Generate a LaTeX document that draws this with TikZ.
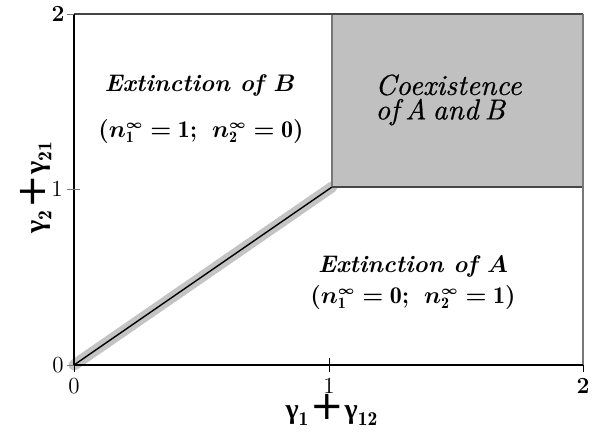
\documentclass[tikz,border=0pt]{standalone}
\usepackage{fontspec}
\usepackage{amsmath,bm}
\newfontfamily\grk{Liberation Serif}
\newfontfamily\dvs{DejaVu Sans}
\newfontface\coexfont{lmroman10-italic.otf}[FakeBold=0.6]
\definecolor{boxgray}{RGB}{192,192,192}
\definecolor{halo}{RGB}{196,196,196}
\definecolor{edgedark}{RGB}{70,70,70}
\definecolor{edgemid}{RGB}{120,120,120}
\newcommand{\gmb}{\text{\grk\bfseries γ}}
\newcommand{\bplus}{\mskip0.5mu\text{\raisebox{-0.6pt}{\fontsize{20}{20}\selectfont\dvs +}}\mskip0.5mu}
\newcommand{\ninf}[1]{\bm{n}_{\mathbf{#1}}^{\scriptscriptstyle\bm{\infty}}}
\newcommand{\stateB}{$\bm{(}\ninf{1}\bm{=}\mathbf{1}\bm{;}\mskip 8mu\ninf{2}\bm{=}\mathbf{0}\bm{)}$}
\newcommand{\stateA}{$\bm{(}\ninf{1}\bm{=}\mathbf{0}\bm{;}\mskip 8mu\ninf{2}\bm{=}\mathbf{1}\bm{)}$}
\newcommand{\csp}{\hspace{3pt}}
\begin{document}
\begin{tikzpicture}[x=0.5pt,y=-0.5pt,
  ticklab/.style={font=\fontsize{11.5}{13}\selectfont, inner sep=0pt},
  regtext/.style={font=\fontsize{12}{14}\selectfont\bfseries\itshape, inner sep=0pt},
  coextext/.style={font=\fontsize{14.5}{17}\selectfont\coexfont, inner sep=0pt, anchor=west},
  axlab/.style={font=\fontsize{14}{16}\selectfont, inner sep=0pt},
  tickline/.style={draw=edgemid, line width=0.5pt}]
\useasboundingbox (0,0) rectangle (599,434);
% coexistence region
\coordinate (o) at (74,365);
\coordinate (c) at (332,187);
\fill[boxgray] (332,14) rectangle (583,187);
% boundary halo and line
\draw[halo, line width=5.5pt, line cap=round] (o) -- (c);
\draw[black, line width=0.7pt] (o) -- (c);
% frame
\draw[edgemid, line width=0.8pt] (332,14) -- (c);
\draw[edgedark, line width=0.8pt] (c) -- (583,187);
\draw[edgedark, line width=0.9pt] (74,14) -- (583,14);
\draw[edgemid, line width=0.7pt] (583,14) -- (583,365);
\draw[black, line width=0.6pt] (74,14) -- (o) -- (583,365);
% ticks
\draw[tickline] (67,14) -- (74,14);
\draw[tickline] (67,189) -- (80,189);
\draw[tickline] (67,365) -- (74,365);
\draw[black, line width=0.5pt] (74,365) -- (74,372);
\draw[black, line width=0.5pt] (329,358) -- (329,372);
\draw[black, line width=0.5pt] (583,365) -- (583,372);
% tick labels
\node[ticklab] (y2) at (58,14) {\bfseries 2};
\node[ticklab] (y1) at (57,189) {1};
\node[ticklab] (y0) at (58,365) {0};
\node[ticklab] (x0) at (74,386) {0};
\node[ticklab] (x1) at (329,386) {1};
\node[ticklab] (x2) at (583,386) {\bfseries 2};
% axis labels
\node[axlab] (xl) at (332,410) {$\gmb_{\mathbf{1}}\bplus\gmb_{\mathbf{12}}$};
\node[axlab, rotate=90] (yl) at (36,187) {$\gmb_{\mathbf{2}}\bplus\gmb_{\mathbf{21}}$};
% region texts
\node[regtext] (eb) at (200,85) {Extinction of $\bm{B}$};
\node[regtext] (ebn) at (201,131) {\stateB};
\node[coextext] (co1) at (375,85) {Coexistence};
\node[coextext] (co2) at (375,112) {of\csp A\csp and\csp B};
\node[regtext] (ea) at (413,266) {Extinction of $\bm{A}$};
\node[regtext] (ean) at (413,297) {\stateA};
\end{tikzpicture}
\end{document}
